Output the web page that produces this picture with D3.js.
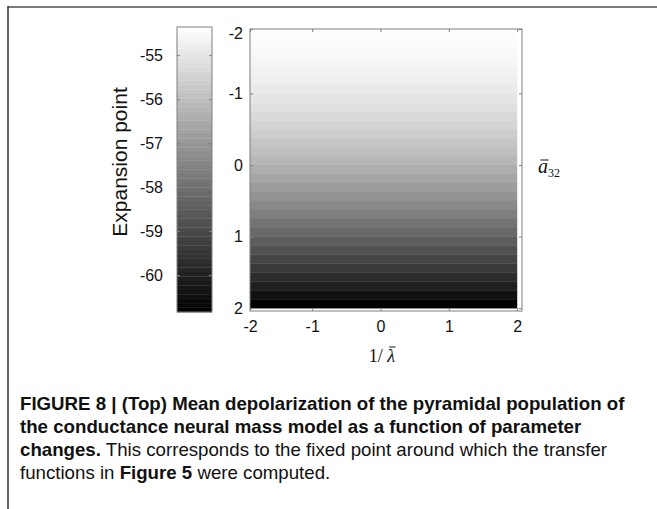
<!DOCTYPE html>
<html><head><meta charset="utf-8">
<script src="https://cdn.jsdelivr.net/npm/d3@7"></script>
<style>
body{margin:0;background:#fff;}
svg{display:block;}
</style></head>
<body>
<svg id="fig" width="657" height="509"></svg>
<script>
// ---- data ----
// band centres of a32 (rows of the image) and mean depolarization (mV)
const a32 = [-1.9375,-1.8125,-1.6875,-1.5625,-1.4375,-1.3125,-1.1875,-1.0625,
             -0.9375,-0.8125,-0.6875,-0.5625,-0.4375,-0.3125,-0.1875,-0.0625,
              0.0625, 0.1875, 0.3125, 0.4375, 0.5625, 0.6875, 0.8125, 0.9375,
              1.0625, 1.1875, 1.3125, 1.4375, 1.5625, 1.6875, 1.8125, 1.9375];
const depol = [-54.39,-54.42,-54.46,-54.52,-54.59,-54.68,-54.77,-54.89,
               -55.01,-55.15,-55.29,-55.45,-55.62,-55.80,-55.99,-56.19,
               -56.41,-56.63,-56.86,-57.11,-57.36,-57.62,-57.89,-58.18,
               -58.47,-58.77,-59.08,-59.40,-59.73,-60.06,-60.41,-60.77];
const bandHalf = 0.0625;
const invLambdaRange = [-2, 2];
const xTicks = [-2,-1,0,1,2];
const yTicks = [-2,-1,0,1,2];
const cbTicks = [-55,-56,-57,-58,-59,-60];
const cbRange = [-60.84, -54.36];
const captionLines = [
  [{t:"FIGURE 8 | (Top) Mean depolarization of the pyramidal population of", b:true}],
  [{t:"the conductance neural mass model as a function of parameter", b:true}],
  [{t:"changes.", b:true},{t:" This corresponds to the fixed point around which the transfer", b:false}],
  [{t:"functions in ", b:false},{t:"Figure 5", b:true},{t:" were computed.", b:false}]
];

// ---- layout ----
const svg = d3.select("#fig");
const box = {x0:250, x1:522, y0:29, y1:311};
const cb = {x0:177, x1:212, y0:27, y1:312};
const axisGray = "#7f7f7f";

// frame
svg.append("line").attr("x1",8).attr("x2",657).attr("y1",7).attr("y2",7)
  .attr("stroke","#7a7a7a").attr("stroke-width",2);
svg.append("line").attr("x1",8).attr("x2",8).attr("y1",6).attr("y2",509)
  .attr("stroke","#333").attr("stroke-width",1.5);

const gray = d3.scaleLinear().domain(cbRange).range(["#000000","#ffffff"]).clamp(true);

// ---- heatmap ----
const x = d3.scaleLinear().domain([-1.91, 2.07]).range([box.x0, box.x1]).clamp(true);
const y = d3.scaleLinear().domain([-1.9, 2.04]).range([box.y0, box.y1]).clamp(true);

svg.append("g").selectAll("rect").data(a32).join("rect")
  .attr("x", x(invLambdaRange[0]))
  .attr("width", x(invLambdaRange[1]) - x(invLambdaRange[0]))
  .attr("y", d => y(d - bandHalf))
  .attr("height", d => y(d + bandHalf) - y(d - bandHalf) + 0.3)
  .attr("fill", (d,i) => gray(depol[i]));

function styleAxis(g, labels){
  g.attr("font-size", null).attr("font-family", null);
  g.select(".domain").remove();
  g.selectAll(".tick line").attr("stroke", axisGray);
  g.selectAll(".tick text")
    .style("font-family","'Liberation Sans', Arial, sans-serif")
    .style("font-size","16px").attr("fill","#111");
  if(!labels) g.selectAll(".tick text").remove();
}
const fmt = d => String(d);
const yAxisG = svg.append("g").attr("transform",`translate(${box.x0},0)`)
  .call(d3.axisLeft(y).tickValues(yTicks).tickFormat(fmt).tickSizeInner(-3).tickSizeOuter(0).tickPadding(7))
  .call(g => styleAxis(g, true));
// the "-2" label sits a little below the top edge, as in the original
yAxisG.selectAll(".tick text").filter(d => d === yTicks[0]).attr("dy","0.62em");
svg.append("g").attr("transform",`translate(${box.x1},0)`)
  .call(d3.axisRight(y).tickValues(yTicks).tickSizeInner(-3).tickSizeOuter(0))
  .call(g => styleAxis(g, false));
svg.append("g").attr("transform",`translate(0,${box.y1})`)
  .call(d3.axisBottom(x).tickValues(xTicks).tickFormat(fmt).tickSizeInner(-3).tickSizeOuter(0).tickPadding(10))
  .call(g => styleAxis(g, true));
svg.append("g").attr("transform",`translate(0,${box.y0})`)
  .call(d3.axisTop(x).tickValues(xTicks).tickSizeInner(-3).tickSizeOuter(0))
  .call(g => styleAxis(g, false));
svg.append("rect").attr("x",box.x0).attr("y",box.y0)
  .attr("width",box.x1-box.x0).attr("height",box.y1-box.y0)
  .attr("fill","none").attr("stroke",axisGray).attr("stroke-width",1);

// axis labels (overbars drawn from glyph extents)
function overbar(textSel, idx, dy){
  const r = textSel.node().getExtentOfChar(idx);
  svg.append("line").attr("x1", r.x + r.width*0.25).attr("x2", r.x + r.width*1.05)
    .attr("y1", r.y + dy).attr("y2", r.y + dy)
    .attr("stroke","#111").attr("stroke-width",1);
}
const xl = svg.append("text").attr("x",382).attr("y",362).attr("text-anchor","middle")
  .attr("font-family","'Liberation Serif','Times New Roman',serif").attr("font-size",18).attr("fill","#111");
xl.append("tspan").text("1/ ");
xl.append("tspan").attr("font-style","italic").text("\u03BB");
overbar(xl, 3, 1);

const yl = svg.append("text").attr("x",538).attr("y",173)
  .attr("font-family","'Liberation Serif','Times New Roman',serif").attr("font-size",20).attr("fill","#111");
yl.append("tspan").attr("font-style","italic").text("a");
yl.append("tspan").attr("font-size",12).attr("dy",4).text("32");
overbar(yl, 0, 5);

// ---- colorbar ----
const cy = d3.scaleLinear().domain(cbRange).range([cb.y1, cb.y0]);
const nLevels = 64;
const step = (cbRange[1]-cbRange[0]) / nLevels;
const levels = d3.range(nLevels).map(i => cbRange[0] + (i + 0.5) * step);
svg.append("g").selectAll("rect").data(levels).join("rect")
  .attr("x", cb.x0).attr("width", cb.x1-cb.x0)
  .attr("y", d => cy(d + step/2))
  .attr("height", d => cy(d - step/2) - cy(d + step/2) + 0.3)
  .attr("fill", d => gray(d));
svg.append("g").attr("transform",`translate(${cb.x0},0)`)
  .call(d3.axisLeft(cy).tickValues(cbTicks).tickFormat(fmt).tickSizeInner(-3).tickSizeOuter(0).tickPadding(14))
  .call(g => styleAxis(g, true));
svg.append("g").attr("transform",`translate(${cb.x1},0)`)
  .call(d3.axisRight(cy).tickValues(cbTicks).tickSizeInner(-3).tickSizeOuter(0))
  .call(g => styleAxis(g, false));
svg.append("rect").attr("x",cb.x0).attr("y",cb.y0)
  .attr("width",cb.x1-cb.x0).attr("height",cb.y1-cb.y0)
  .attr("fill","none").attr("stroke",axisGray).attr("stroke-width",1);

svg.append("text").attr("transform","translate(127,162) rotate(-90)")
  .attr("text-anchor","middle")
  .attr("font-family","'Liberation Sans', Arial, sans-serif").attr("font-size",21).attr("fill","#111")
  .text("Expansion point");

// ---- caption ----
const cap = svg.append("g");
const baselines = [410, 433, 456, 479];
const texts = captionLines.map((line, i) => {
  const t = cap.append("text").attr("x",0).attr("y",baselines[i])
    .attr("font-family","'Liberation Sans Narrow','Arial Narrow','Liberation Sans',sans-serif")
    .attr("font-size",18).attr("fill","#111");
  line.forEach(s => t.append("tspan").attr("font-weight", s.b ? "bold" : "normal").text(s.t));
  return t;
});
const w0 = texts[0].node().getComputedTextLength();
const sx = 605 / w0;
cap.attr("transform",`translate(20,0) scale(${sx},1)`);
</script>
</body></html>
